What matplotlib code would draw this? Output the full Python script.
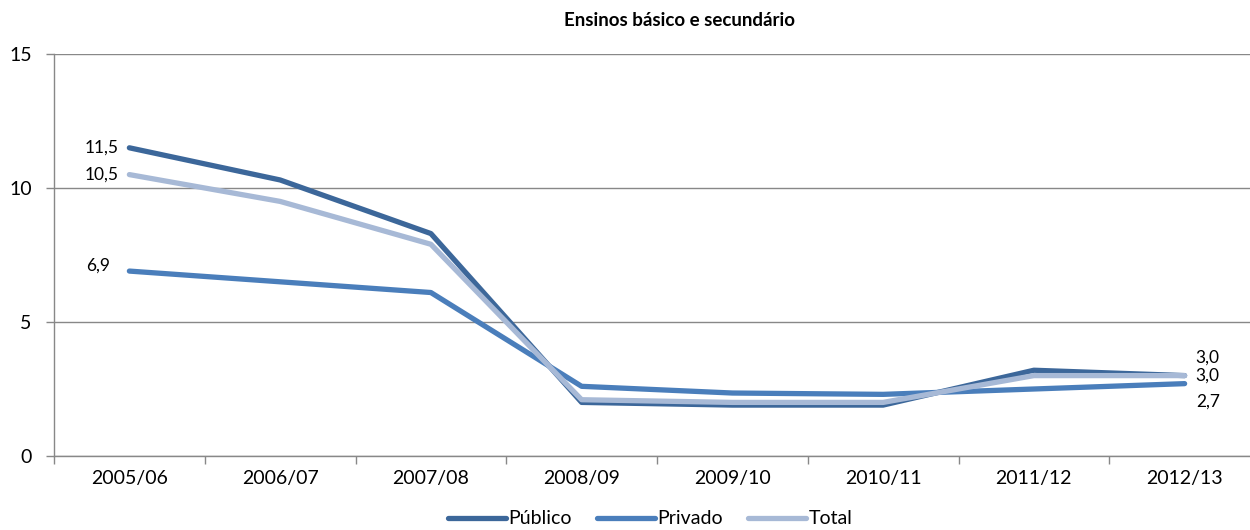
import matplotlib
matplotlib.use("Agg")
import matplotlib.pyplot as plt
import numpy as np

categories = ["2005/06", "2006/07", "2007/08", "2008/09", "2009/10", "2010/11", "2011/12", "2012/13"]
publico = [11.5, 10.3, 8.3, 2.0, 1.9, 1.9, 3.2, 3.0]
privado = [6.9, 6.5, 6.1, 2.6, 2.35, 2.3, 2.5, 2.7]
total = [10.5, 9.5, 7.9, 2.1, 2.0, 2.0, 3.0, 3.0]
yticks = [0, 5, 10, 15]
title = "Ensinos básico e secundário"

plt.rcParams['font.family'] = ['Lato', 'DejaVu Sans']

fig = plt.figure(figsize=(12.5, 5.3), dpi=100)
ax = fig.add_axes([54/1250, 74/530, 1206/1250, 402/530])

x = np.arange(len(categories))
c_pub = "#3C679A"
c_priv = "#4A7EBB"
c_tot = "#A7B9D6"
lw = 3.8
ax.plot(x, publico, color=c_pub, lw=lw, solid_capstyle='round', label="Público", zorder=3)
ax.plot(x, privado, color=c_priv, lw=lw, solid_capstyle='round', label="Privado", zorder=3)
ax.plot(x, total, color=c_tot, lw=lw, solid_capstyle='round', label="Total", zorder=3)

def fmt(v):
    return f"{v:.1f}".replace(".", ",")

fs_lab = 12.5
# left labels
ax.annotate(fmt(publico[0]), (x[0], publico[0]), xytext=(-8, 0), textcoords='offset points',
            ha='right', va='center', fontsize=fs_lab)
ax.annotate(fmt(total[0]), (x[0], total[0]), xytext=(-8, 0), textcoords='offset points',
            ha='right', va='center', fontsize=fs_lab)
ax.annotate(fmt(privado[0]), (x[0], privado[0]), xytext=(-14, 4), textcoords='offset points',
            ha='right', va='center', fontsize=fs_lab)
# right labels
ax.annotate(fmt(publico[-1]), (x[-1], publico[-1]), xytext=(8, 13), textcoords='offset points',
            ha='left', va='center', fontsize=fs_lab)
ax.annotate(fmt(total[-1]), (x[-1], total[-1]), xytext=(8, 0), textcoords='offset points',
            ha='left', va='center', fontsize=fs_lab)
ax.annotate(fmt(privado[-1]), (x[-1], privado[-1]), xytext=(8, -13), textcoords='offset points',
            ha='left', va='center', fontsize=fs_lab)

ax.set_xlim(-0.5, len(categories) - 0.5)
ax.set_ylim(0, 15)
ax.set_yticks(yticks)
ax.set_yticklabels([str(t) for t in yticks], fontsize=14)
ax.set_xticks(x)
ax.set_xticklabels(categories, fontsize=14)
ax.set_xticks(np.arange(-0.5, len(categories), 1), minor=True)
ax.tick_params(axis='x', which='major', length=0, pad=10)
ax.tick_params(axis='x', which='minor', length=6, color='#888888', width=1)
ax.tick_params(axis='y', length=6, color='#888888', width=1, pad=10)

ax.grid(axis='y', color='#888888', lw=1)
ax.set_axisbelow(True)
for s in ['top', 'right']:
    ax.spines[s].set_visible(False)
for s in ['left', 'bottom']:
    ax.spines[s].set_color('#888888')
    ax.spines[s].set_linewidth(1)

fig.text(680/1250, 1 - 20/530, title, ha='center', va='center', fontsize=13.5, fontweight='bold')

leg = fig.legend(loc='center', bbox_to_anchor=(650/1250, 1 - 519/530), ncol=3, frameon=False,
                 fontsize=14, handlelength=3.0, handletextpad=0.1, columnspacing=1.3)

fig.savefig("out.png", dpi=100)
